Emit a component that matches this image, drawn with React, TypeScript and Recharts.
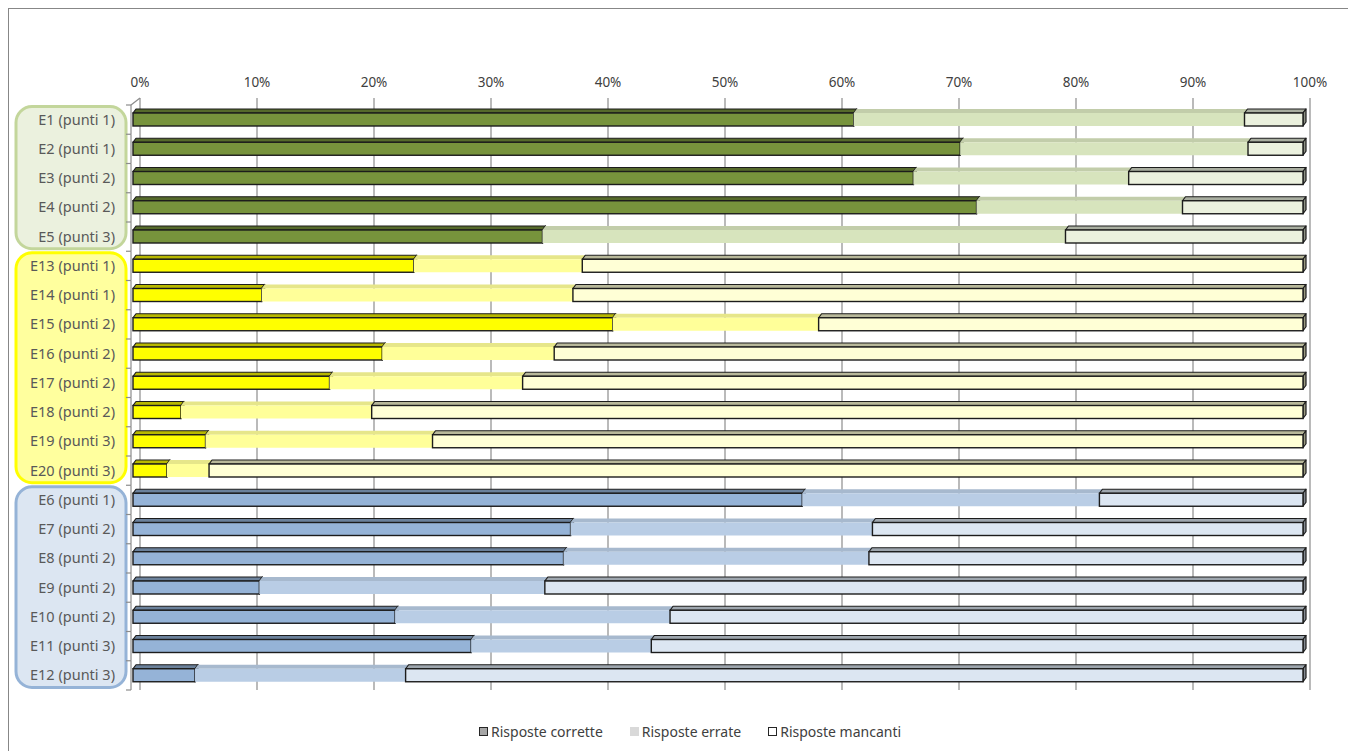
import React from "react";
import { BarChart, Bar, XAxis, YAxis, CartesianGrid } from "recharts";

// rows, top to bottom
const categories = [
  "E1 (punti 1)", "E2 (punti 1)", "E3 (punti 2)", "E4 (punti 2)", "E5 (punti 3)",
  "E13 (punti 1)", "E14 (punti 1)", "E15 (punti 2)", "E16 (punti 2)", "E17 (punti 2)",
  "E18 (punti 2)", "E19 (punti 3)", "E20 (punti 3)",
  "E6 (punti 1)", "E7 (punti 2)", "E8 (punti 2)", "E9 (punti 2)", "E10 (punti 2)",
  "E11 (punti 3)", "E12 (punti 3)",
];
const sections = [
  "green", "green", "green", "green", "green",
  "yellow", "yellow", "yellow", "yellow", "yellow", "yellow", "yellow", "yellow",
  "blue", "blue", "blue", "blue", "blue", "blue", "blue",
];

// percentages
const corrette = [61.6, 70.7, 66.7, 72.1, 35.0, 24.0, 11.0, 41.0, 21.3, 16.8, 4.1, 6.2, 2.9, 57.2, 37.4, 36.8, 10.8, 22.4, 28.9, 5.3];
const errate = [33.4, 24.6, 18.4, 17.6, 44.7, 14.4, 26.6, 17.6, 14.7, 16.5, 16.3, 19.4, 3.6, 25.4, 25.8, 26.1, 24.4, 23.5, 15.4, 18.0];
const mancanti = [5.0, 4.7, 14.9, 10.3, 20.3, 61.6, 62.4, 41.4, 64.0, 66.7, 79.6, 74.4, 93.5, 17.4, 36.8, 37.1, 64.8, 54.1, 55.7, 76.7];

const xTicks = [0, 10, 20, 30, 40, 50, 60, 70, 80, 90, 100];

const legendItems = [
  { label: "Risposte corrette", fill: "#A6A6A6", stroke: "#262626" },
  { label: "Risposte errate", fill: "#D9D9D9", stroke: "none" },
  { label: "Risposte mancanti", fill: "#FFFFFF", stroke: "#262626" },
];

const PALETTE: Record<string, Record<string, string>> = {
  green: { corrette: "#77933C", errate: "#D7E4BD", mancanti: "#EBF1DE", box: "#EBF1DE", boxStroke: "#C3D69B" },
  yellow: { corrette: "#FFFF00", errate: "#FFFF99", mancanti: "#FFFFD6", box: "#FFFF9E", boxStroke: "#FFFF00" },
  blue: { corrette: "#95B3D7", errate: "#B9CDE5", mancanti: "#DCE6F2", box: "#DCE6F2", boxStroke: "#95B3D7" },
};

const data = categories.map((name, i) => ({
  name,
  section: sections[i],
  corrette: corrette[i],
  errate: errate[i],
  mancanti: mancanti[i],
}));

const FONT = "'Noto Sans', sans-serif";
const GRID_SHIFT = 7;
const DEPTH_X = 3;
const DEPTH_Y = 4;

function shade(hex: string, f: number) {
  const n = parseInt(hex.slice(1), 16);
  const r = Math.round(((n >> 16) & 255) * f);
  const g = Math.round(((n >> 8) & 255) * f);
  const b = Math.round((n & 255) * f);
  return `rgb(${r},${g},${b})`;
}

function scaleOf(axis: any, t: number, offset: any) {
  const s = axis?.scale;
  if (typeof s === "function") return s(t);
  if (s && typeof s.map === "function") return s.map(t);
  return offset.left + (t / 100) * offset.width;
}

function Segment(props: any) {
  const { x, y, width, height, payload, series } = props;
  if (!width || width <= 0) return null;
  const c = PALETTE[payload.section][series];
  const outlined = series !== "errate";
  const stroke = outlined ? "#1c1c1c" : "none";
  const sw = outlined ? 1.2 : 0;
  return (
    <g>
      <polygon
        points={`${x},${y} ${x + DEPTH_X},${y - DEPTH_Y} ${x + width + DEPTH_X},${y - DEPTH_Y} ${x + width},${y}`}
        fill={shade(c, outlined ? 0.72 : 0.9)}
        stroke={stroke}
        strokeWidth={sw}
        strokeLinejoin="round"
      />
      <polygon
        points={`${x + width},${y} ${x + width + DEPTH_X},${y - DEPTH_Y} ${x + width + DEPTH_X},${y + height - DEPTH_Y} ${x + width},${y + height}`}
        fill={shade(c, outlined ? 0.6 : 0.85)}
        stroke={stroke}
        strokeWidth={sw}
        strokeLinejoin="round"
      />
      <rect x={x} y={y} width={width} height={height} fill={c} stroke={stroke} strokeWidth={outlined ? 1.4 : 0} />
    </g>
  );
}

function TopTick(props: any) {
  const { x, y, payload } = props;
  return (
    <g>
      <line x1={x + GRID_SHIFT} y1={y - 7} x2={x + GRID_SHIFT} y2={y} stroke="#8c8c8c" strokeWidth={1.2} />
      <text x={x + GRID_SHIFT} y={y - 18} textAnchor="middle" fill="#404040" fontSize={13.5} fontFamily={FONT}>
        {payload.value}%
      </text>
    </g>
  );
}

function FloorTick(props: any) {
  const { x, y } = props;
  return <line x1={x + GRID_SHIFT} y1={y - 1} x2={x} y2={y + 3} stroke="#8c8c8c" strokeWidth={1.2} />;
}

function CategoryTick(props: any) {
  const { x, y, payload } = props;
  const idx = categories.indexOf(payload.value);
  const half = payload.offset || 14.6;
  const sec = sections[idx];
  const first = idx === 0 || sections[idx - 1] !== sec;
  const count = sections.filter((s) => s === sec).length;
  const top = y - half;
  const last = idx === categories.length - 1;
  return (
    <g>
      {first && (
        <rect
          x={x - 117}
          y={top + 1.5}
          width={110}
          height={count * half * 2 - 4}
          rx={16}
          fill={PALETTE[sec].box}
          stroke={PALETTE[sec].boxStroke}
          strokeWidth={3}
        />
      )}
      <line x1={x - 2} y1={top} x2={x - 2} y2={top + half * 2} stroke="#8c8c8c" strokeWidth={1.2} />
      <line x1={x - 7} y1={top} x2={x - 2} y2={top} stroke="#8c8c8c" strokeWidth={1.2} />
      {idx === 0 && <line x1={x - 2} y1={top} x2={x + GRID_SHIFT} y2={top - 7} stroke="#8c8c8c" strokeWidth={1.2} />}
      {last && <line x1={x - 7} y1={top + half * 2} x2={x - 2} y2={top + half * 2} stroke="#8c8c8c" strokeWidth={1.2} />}
      <text x={x - 18} y={y + 5} textAnchor="end" fill="#595959" fontSize={14.5} fontFamily={FONT}>
        {payload.value}
      </text>
    </g>
  );
}

export default function App() {
  return (
    <div
      style={{
        position: "relative",
        width: 1348,
        height: 743,
        boxSizing: "border-box",
        borderLeft: "1px solid #878787",
        borderTop: "1px solid #878787",
        background: "#fff",
        overflow: "hidden",
      }}
    >
      <BarChart
        width={1347}
        height={742}
        data={data}
        layout="vertical"
        margin={{ top: 66, right: 53, bottom: 61, left: 0 }}
        barSize={13}
      >
        <CartesianGrid
          horizontal={false}
          stroke="#8c8c8c"
          strokeWidth={1.2}
          verticalCoordinatesGenerator={({ xAxis, offset }: any) =>
            xTicks.map((t) => scaleOf(xAxis, t, offset) + GRID_SHIFT)
          }
        />
        <XAxis
          type="number"
          orientation="top"
          domain={[0, 100]}
          ticks={xTicks}
          height={30}
          axisLine={false}
          tickLine={false}
          tickSize={0}
          tickMargin={0}
          tick={<TopTick />}
          interval={0}
        />
        <XAxis
          xAxisId="floor"
          type="number"
          orientation="bottom"
          domain={[0, 100]}
          ticks={xTicks}
          height={0}
          axisLine={false}
          tickLine={false}
          tickSize={0}
          tickMargin={0}
          tick={<FloorTick />}
          interval={0}
        />
        <YAxis
          type="category"
          dataKey="name"
          width={124}
          axisLine={false}
          tickLine={false}
          tickSize={0}
          tickMargin={0}
          interval={0}
          tick={<CategoryTick />}
        />
        <Bar dataKey="corrette" stackId="s" isAnimationActive={false} shape={(p: any) => <Segment {...p} series="corrette" />} />
        <Bar dataKey="errate" stackId="s" isAnimationActive={false} shape={(p: any) => <Segment {...p} series="errate" />} />
        <Bar dataKey="mancanti" stackId="s" isAnimationActive={false} shape={(p: any) => <Segment {...p} series="mancanti" />} />
      </BarChart>
      <div
        style={{
          position: "absolute",
          left: 470,
          top: 713,
          display: "flex",
          alignItems: "center",
          fontFamily: FONT,
          fontSize: 14,
          color: "#404040",
        }}
      >
        {legendItems.map((it, i) => (
          <div key={it.label} style={{ display: "flex", alignItems: "center", marginRight: i < 2 ? 27 : 0 }}>
            <span
              style={{
                display: "inline-block",
                width: 9,
                height: 9,
                boxSizing: "border-box",
                background: it.fill,
                border: it.stroke === "none" ? "none" : `1.5px solid ${it.stroke}`,
                marginRight: 3,
              }}
            />
            <span>{it.label}</span>
          </div>
        ))}
      </div>
    </div>
  );
}
